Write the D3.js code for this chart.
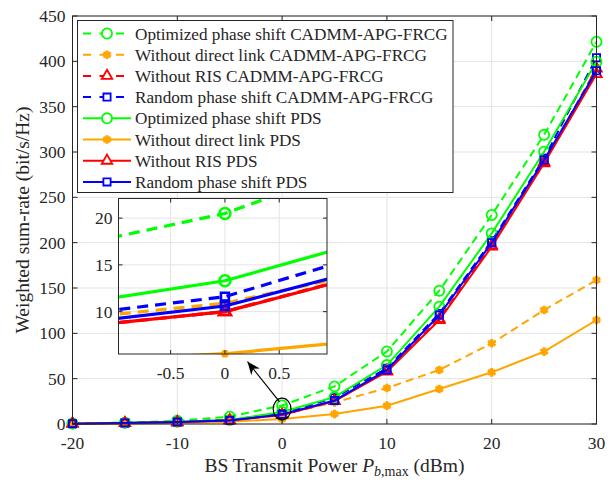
<!DOCTYPE html>
<html>
<head>
<meta charset="utf-8">
<script src="https://cdn.jsdelivr.net/npm/d3@7"></script>
<style>
  body { margin: 0; background: #fff; }
  text { font-family: "Liberation Serif", "Times New Roman", serif; fill: #262626; }
</style>
</head>
<body>
<div id="chart"></div>
<script>
// data
var powers = [-20, -15, -10, -5, 0, 5, 10, 15, 20, 25, 30];

var optCadmm      = [0.6, 1.5, 3.6, 8.1, 20.5, 41.5, 80, 147, 230.5, 319, 421.6];
var noDirectCadmm = [0.2, 0.6, 1.8, 5.0, 10.9, 23.7, 39.7, 59.6, 89, 125.7, 158.8];
var noRisCadmm    = [0.4, 1.0, 2.0, 4.0, 10.0, 25.4, 58.5, 116, 197, 289, 392];
var randCadmm     = [0.5, 1.2, 2.3, 4.6, 11.6, 28.9, 61.5, 122, 202, 293, 404];
var optPds        = [0.5, 1.3, 2.5, 4.4, 13.3, 29.6, 65, 129.4, 210.3, 300.3, 399.6];
var noDirectPds   = [0.1, 0.4, 1.0, 2.5, 5.5, 11, 20.2, 38.6, 57, 79.8, 114.7];
var noRisPds      = [0.4, 1.0, 2.0, 4.0, 10.0, 25.2, 57.7, 114.7, 195.6, 287.5, 386];
var randPds       = [0.4, 1.1, 2.1, 3.9, 10.6, 25.9, 59.6, 120.2, 200, 291.2, 389.7];

var seriesNames = [
  "Optimized phase shift CADMM-APG-FRCG",
  "Without direct link CADMM-APG-FRCG",
  "Without RIS CADMM-APG-FRCG",
  "Random phase shift CADMM-APG-FRCG",
  "Optimized phase shift PDS",
  "Without direct link PDS",
  "Without RIS PDS",
  "Random phase shift PDS"
];
var seriesValues = [optCadmm, noDirectCadmm, noRisCadmm, randCadmm, optPds, noDirectPds, noRisPds, randPds];

var xTicks = [-20, -10, 0, 10, 20, 30];
var yTicks = [0, 50, 100, 150, 200, 250, 300, 350, 400, 450];
var insetXTicks = [-0.5, 0, 0.5];
var insetYTicks = [10, 15, 20];
var insetXDomain = [-0.98, 0.94];
var insetYDomain = [5.47, 22.1];

// zoom annotation in data units: ellipse centre/radii, arrow tail and head
var ellipseData = [0, 16.5, 0.85, 12];
var arrowData = [-0.26, 24.6, -3.3, 68.7];

// styles
var colors = ["#00ff00", "#ffa500", "#ff0000", "#0000ff", "#00ff00", "#ffa500", "#ff0000", "#0000ff"];
var dashed = [true, true, true, true, false, false, false, false];
var markerTypes = ["circle", "asterisk", "triangle", "square", "circle", "asterisk", "triangle", "square"];

var W = 611, H = 480;
var svg = d3.select("#chart").append("svg")
  .attr("width", W).attr("height", H);

var x = d3.scaleLinear().domain([-20, 30]).range([72.5, 596.5]);
var y = d3.scaleLinear().domain([0, 450]).range([424, 16]);

var frameColor = "#262626";
var gridColor = "#e3e3e3";

function markerPath(type, size) {
  var sym;
  if (type == "circle") sym = d3.symbolCircle;
  else if (type == "square") sym = d3.symbolSquare;
  else if (type == "triangle") sym = d3.symbolTriangle;
  else sym = d3.symbolAsterisk;
  return d3.symbol().type(sym).size(size)();
}
var markerSizes = { circle: 80, square: 52, triangle: 48, asterisk: 52 };

// grid
svg.append("g").selectAll("line").data(xTicks).enter().append("line")
  .attr("x1", d => x(d)).attr("x2", d => x(d))
  .attr("y1", y(0)).attr("y2", y(450))
  .attr("stroke", gridColor).attr("stroke-width", 1);
svg.append("g").selectAll("line").data(yTicks).enter().append("line")
  .attr("x1", x(-20)).attr("x2", x(30))
  .attr("y1", d => y(d)).attr("y2", d => y(d))
  .attr("stroke", gridColor).attr("stroke-width", 1);

// main series
var mainLine = d3.line().x((d, i) => x(powers[i])).y(d => y(d));
var mainG = svg.append("g");
seriesValues.forEach(function(vals, k) {
  mainG.append("path")
    .attr("d", mainLine(vals))
    .attr("fill", "none")
    .attr("stroke", colors[k])
    .attr("stroke-width", 2)
    .attr("stroke-dasharray", dashed[k] ? "8,5" : null);
  mainG.selectAll(".m" + k).data(vals).enter().append("path")
    .attr("d", markerPath(markerTypes[k], markerSizes[markerTypes[k]]))
    .attr("transform", (d, i) => "translate(" + x(powers[i]) + "," + y(d) + ")")
    .attr("fill", "none")
    .attr("stroke", colors[k])
    .attr("stroke-width", markerTypes[k] == "asterisk" ? 3 : 1.8);
});

// frame and ticks (box on, ticks inward)
svg.append("rect")
  .attr("x", x(-20)).attr("y", y(450))
  .attr("width", x(30) - x(-20)).attr("height", y(0) - y(450))
  .attr("fill", "none").attr("stroke", frameColor).attr("stroke-width", 1);

var tickLen = 5;
xTicks.forEach(function(t) {
  svg.append("line").attr("x1", x(t)).attr("x2", x(t)).attr("y1", y(0)).attr("y2", y(0) - tickLen).attr("stroke", frameColor);
  svg.append("line").attr("x1", x(t)).attr("x2", x(t)).attr("y1", y(450)).attr("y2", y(450) + tickLen).attr("stroke", frameColor);
  svg.append("text").attr("x", x(t)).attr("y", y(0) + 25)
    .attr("text-anchor", "middle").attr("font-size", "17.5px").text(t);
});
yTicks.forEach(function(t) {
  svg.append("line").attr("x1", x(-20)).attr("x2", x(-20) + tickLen).attr("y1", y(t)).attr("y2", y(t)).attr("stroke", frameColor);
  svg.append("line").attr("x1", x(30)).attr("x2", x(30) - tickLen).attr("y1", y(t)).attr("y2", y(t)).attr("stroke", frameColor);
  svg.append("text").attr("x", x(-20) - 7).attr("y", y(t) + 6)
    .attr("text-anchor", "end").attr("font-size", "17.5px").text(t);
});

// axis labels
var xl = svg.append("text").attr("x", (x(-20) + x(30)) / 2).attr("y", 472)
  .attr("text-anchor", "middle").attr("font-size", "19.5px");
xl.append("tspan").text("BS Transmit Power ");
xl.append("tspan").attr("font-style", "italic").text("P");
xl.append("tspan").attr("font-size", "14px").attr("dy", 4).attr("font-style", "italic").text("b");
xl.append("tspan").attr("font-size", "14px").text(",max");
xl.append("tspan").attr("dy", -4).text(" (dBm)");

svg.append("text")
  .attr("transform", "translate(29," + ((y(0) + y(450)) / 2) + ") rotate(-90)")
  .attr("text-anchor", "middle").attr("font-size", "19.5px")
  .text("Weighted sum-rate (bit/s/Hz)");

// zoom annotation
svg.append("ellipse")
  .attr("cx", x(ellipseData[0])).attr("cy", y(ellipseData[1]))
  .attr("rx", x(ellipseData[2]) - x(0)).attr("ry", y(0) - y(ellipseData[3]))
  .attr("fill", "none").attr("stroke", "#000").attr("stroke-width", 1.2);

var ax1 = x(arrowData[0]), ay1 = y(arrowData[1]), ax2 = x(arrowData[2]), ay2 = y(arrowData[3]);
svg.append("line").attr("x1", ax1).attr("y1", ay1).attr("x2", ax2).attr("y2", ay2)
  .attr("stroke", "#000").attr("stroke-width", 1.2);
var ang = Math.atan2(ay2 - ay1, ax2 - ax1);
var hl = 13, hw = 5.5;
var bx = ax2 - hl * Math.cos(ang), by = ay2 - hl * Math.sin(ang);
svg.append("path")
  .attr("d", "M" + ax2 + "," + ay2 +
    "L" + (bx + hw * Math.sin(ang)) + "," + (by - hw * Math.cos(ang)) +
    "L" + (ax2 - 9 * Math.cos(ang)) + "," + (ay2 - 9 * Math.sin(ang)) +
    "L" + (bx - hw * Math.sin(ang)) + "," + (by + hw * Math.cos(ang)) + "Z")
  .attr("fill", "#000");

// inset
var ix = d3.scaleLinear().domain(insetXDomain).range([118.5, 327]);
var iy = d3.scaleLinear().domain(insetYDomain).range([354, 198.5]);
var ins = svg.append("g");
ins.append("rect")
  .attr("x", ix.range()[0]).attr("y", iy.range()[1])
  .attr("width", ix.range()[1] - ix.range()[0]).attr("height", iy.range()[0] - iy.range()[1])
  .attr("fill", "#fff");

svg.append("clipPath").attr("id", "insclip").append("rect")
  .attr("x", ix.range()[0]).attr("y", iy.range()[1])
  .attr("width", ix.range()[1] - ix.range()[0]).attr("height", iy.range()[0] - iy.range()[1]);

// main horizontal grid shows through the inset
ins.append("g").attr("clip-path", "url(#insclip)")
  .selectAll("line").data(yTicks).enter().append("line")
  .attr("x1", x(-20)).attr("x2", x(30))
  .attr("y1", d => y(d)).attr("y2", d => y(d))
  .attr("stroke", gridColor);

insetXTicks.forEach(function(t) {
  ins.append("line").attr("x1", ix(t)).attr("x2", ix(t)).attr("y1", iy.range()[0]).attr("y2", iy.range()[1]).attr("stroke", gridColor);
});
insetYTicks.forEach(function(t) {
  ins.append("line").attr("x1", ix.range()[0]).attr("x2", ix.range()[1]).attr("y1", iy(t)).attr("y2", iy(t)).attr("stroke", gridColor);
});

var insLine = d3.line().x((d, i) => ix(powers[i])).y(d => iy(d));
var insData = ins.append("g");
seriesValues.forEach(function(vals, k) {
  insData.append("path")
    .attr("clip-path", "url(#insclip)")
    .attr("d", insLine(vals))
    .attr("fill", "none")
    .attr("stroke", colors[k])
    .attr("stroke-width", 3.2)
    .attr("stroke-dasharray", dashed[k] ? "11,7" : null);
  var idx = powers.indexOf(0);
  var v = vals[idx];
  if (v >= insetYDomain[0] - 0.5 && v <= insetYDomain[1]) {
    var isAst = markerTypes[k] == "asterisk";
    insData.append("path")
      .attr("d", markerPath(markerTypes[k], isAst ? 40 : markerSizes[markerTypes[k]] * 1.2))
      .attr("transform", "translate(" + ix(0) + "," + iy(v) + ")")
      .attr("fill", isAst ? colors[k] : "none")
      .attr("stroke", colors[k])
      .attr("stroke-width", isAst ? 5 : 2.6);
  }
});

ins.append("rect")
  .attr("x", ix.range()[0]).attr("y", iy.range()[1])
  .attr("width", ix.range()[1] - ix.range()[0]).attr("height", iy.range()[0] - iy.range()[1])
  .attr("fill", "none").attr("stroke", frameColor);
insetXTicks.forEach(function(t) {
  ins.append("line").attr("x1", ix(t)).attr("x2", ix(t)).attr("y1", iy.range()[0]).attr("y2", iy.range()[0] - 4).attr("stroke", frameColor);
  ins.append("line").attr("x1", ix(t)).attr("x2", ix(t)).attr("y1", iy.range()[1]).attr("y2", iy.range()[1] + 4).attr("stroke", frameColor);
  ins.append("text").attr("x", ix(t)).attr("y", iy.range()[0] + 25)
    .attr("text-anchor", "middle").attr("font-size", "17.5px").text(t);
});
insetYTicks.forEach(function(t) {
  ins.append("line").attr("x1", ix.range()[0]).attr("x2", ix.range()[0] + 4).attr("y1", iy(t)).attr("y2", iy(t)).attr("stroke", frameColor);
  ins.append("line").attr("x1", ix.range()[1]).attr("x2", ix.range()[1] - 4).attr("y1", iy(t)).attr("y2", iy(t)).attr("stroke", frameColor);
  ins.append("text").attr("x", ix.range()[0] - 6).attr("y", iy(t) + 6)
    .attr("text-anchor", "end").attr("font-size", "17.5px").text(t);
});

// legend
var lg = svg.append("g");
lg.append("rect").attr("x", 77.5).attr("y", 20.5).attr("width", 375.5).attr("height", 172)
  .attr("fill", "#fff").attr("stroke", frameColor).attr("stroke-width", 1);
seriesNames.forEach(function(name, k) {
  var cy = 33.5 + k * 21.2;
  lg.append("line").attr("x1", 83).attr("x2", 131).attr("y1", cy).attr("y2", cy)
    .attr("stroke", colors[k]).attr("stroke-width", 2)
    .attr("stroke-dasharray", dashed[k] ? "8,8.5" : null);
  lg.append("path")
    .attr("d", markerPath(markerTypes[k], markerSizes[markerTypes[k]]))
    .attr("transform", "translate(107," + cy + ")")
    .attr("fill", "#fff")
    .attr("stroke", colors[k]).attr("stroke-width", markerTypes[k] == "asterisk" ? 3 : 1.8);
  lg.append("text").attr("x", 135).attr("y", cy + 6)
    .attr("font-size", "17.2px").text(name);
});
</script>
</body>
</html>
